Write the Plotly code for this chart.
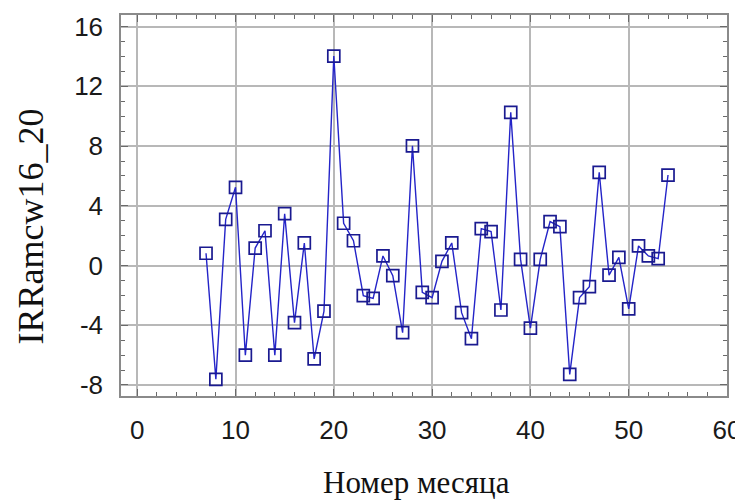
import plotly.graph_objects as go

months = list(range(7, 55))
values = [0.82, -7.62, 3.09, 5.24, -6.0, 1.17, 2.33, -6.0, 3.47, -3.83,
          1.51, -6.26, -3.05, 14.03, 2.83, 1.66, -2.02, -2.2, 0.64, -0.68,
          -4.5, 8.02, -1.8, -2.15, 0.28, 1.51, -3.16, -4.9, 2.47, 2.27,
          -2.98, 10.26, 0.41, -4.2, 0.41, 2.94, 2.6, -7.29, -2.15, -1.42,
          6.24, -0.64, 0.55, -2.91, 1.31, 0.64, 0.46, 6.06]

x_ticks = [0, 10, 20, 30, 40, 50, 60]
y_ticks = [-8, -4, 0, 4, 8, 12, 16]
y_tick_labels = ["-8", "-4", "0", "4", "8", "12", "16"]
x_title = "Номер месяца"
y_title = "IRRamcw16_20"

fig = go.Figure()
fig.add_trace(go.Scatter(
    x=months, y=values, mode="lines+markers",
    line=dict(color="#2424c8", width=1.4),
    marker=dict(symbol="square-open", size=12, color="#1a1a90", line=dict(width=1.7, color="#1a1a90")),
    showlegend=False,
))

axis_common = dict(
    showgrid=True, gridcolor="#b8b8b8", gridwidth=1.5,
    showline=True, linecolor="#8a8a8a", linewidth=1.5, mirror="allticks",
    ticks="inside", ticklen=7, tickcolor="#6a6a6a", tickwidth=1,
    zeroline=False, automargin=False,
    tickfont=dict(family="Liberation Sans, Arial, sans-serif", size=26, color="#1a1a1a"),
)

fig.update_xaxes(
    range=[-1.65, 60], tickvals=x_ticks, ticklabelstandoff=10,
    minor=dict(dtick=2, ticks="inside", ticklen=4, tickcolor="#6a6a6a", showgrid=False),
    **axis_common,
)
fig.update_yaxes(
    range=[-8.74, 16.78], tickvals=y_ticks, ticktext=y_tick_labels, ticklabelstandoff=11,
    minor=dict(dtick=1, ticks="inside", ticklen=4, tickcolor="#6a6a6a", showgrid=False),
    **axis_common,
)

fig.add_annotation(
    text=x_title, xref="paper", yref="paper", x=0.488, y=-0.228,
    yanchor="middle", xanchor="center", showarrow=False,
    font=dict(family="Liberation Serif, Times New Roman, serif", size=31, color="#111111"),
)
fig.add_annotation(
    text=y_title, xref="paper", yref="paper", x=-0.184, y=0.446,
    xanchor="left", yanchor="middle", textangle=-90, showarrow=False,
    font=dict(family="Liberation Serif, Times New Roman, serif", size=36, color="#111111"),
)

# figure is drawn inside the page's default 8px body margin
fig.update_layout(
    width=735, height=493,
    margin=dict(l=113, r=16, t=7, b=105),
    paper_bgcolor="white", plot_bgcolor="white",
)

fig.write_html("out.html")
